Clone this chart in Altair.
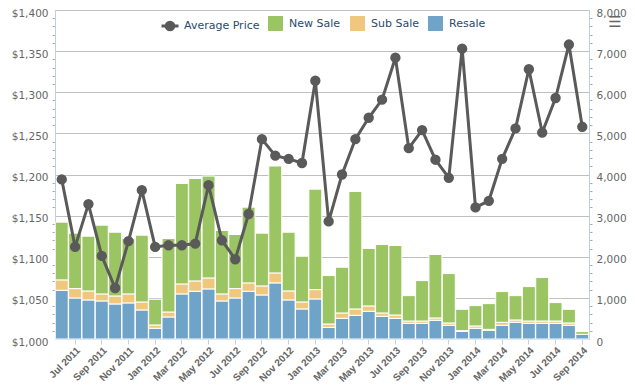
import altair as alt
import pandas as pd

months = ["Jun 2011", "Jul 2011", "Aug 2011", "Sep 2011", "Oct 2011", "Nov 2011", "Dec 2011",
          "Jan 2012", "Feb 2012", "Mar 2012", "Apr 2012", "May 2012", "Jun 2012", "Jul 2012",
          "Aug 2012", "Sep 2012", "Oct 2012", "Nov 2012", "Dec 2012", "Jan 2013", "Feb 2013",
          "Mar 2013", "Apr 2013", "May 2013", "Jun 2013", "Jul 2013", "Aug 2013", "Sep 2013",
          "Oct 2013", "Nov 2013", "Dec 2013", "Jan 2014", "Feb 2014", "Mar 2014", "Apr 2014",
          "May 2014", "Jun 2014", "Jul 2014", "Aug 2014", "Sep 2014"]

resale = [1185, 998, 950, 925, 852, 877, 706, 260, 536, 1096, 1161, 1218, 925, 998, 1161, 1071,
          1364, 950, 731, 974, 284, 503, 576, 674, 552, 503, 381, 381, 455, 333, 187, 260, 211,
          333, 406, 381, 381, 381, 333, 114]
sub_sale = [252, 228, 219, 171, 195, 219, 195, 81, 121, 243, 251, 267, 171, 228, 203, 220,
            243, 219, 170, 227, 81, 130, 155, 130, 81, 81, 57, 57, 57, 57, 16, 57, 24, 73, 57,
            57, 57, 57, 57, 0]
new_sale = [1404, 1347, 1331, 1672, 1550, 1347, 1623, 625, 1786, 2443, 2492, 2476, 1542, 1315,
            1842, 1282, 2600, 1428, 1112, 2443, 1177, 1112, 2857, 1396, 1664, 1689, 617, 982,
            1543, 1201, 519, 495, 625, 747, 592, 836, 1056, 447, 332, 65]
avg_price = [1194, 1112, 1164, 1101, 1062, 1119, 1181, 1112, 1114, 1114, 1116, 1187, 1120, 1097,
             1152, 1243, 1223, 1219, 1214, 1314, 1143, 1200, 1243, 1269, 1291, 1342, 1232, 1254,
             1218, 1196, 1353, 1160, 1168, 1219, 1256, 1328, 1251, 1293, 1358, 1258]

bar_series = ["New Sale", "Sub Sale", "Resale"]
bar_colors = ["#9BC563", "#F0C87D", "#6FA3C7"]
line_color = "#5A5A5A"

rows = []
for i, m in enumerate(months):
    rows.append({"month": m, "series": "Resale", "value": resale[i], "ord": 0})
    rows.append({"month": m, "series": "Sub Sale", "value": sub_sale[i], "ord": 1})
    rows.append({"month": m, "series": "New Sale", "value": new_sale[i], "ord": 2})
bars_df = pd.DataFrame(rows)
line_df = pd.DataFrame({"month": months, "price": avg_price, "series": "Average Price"})

axis_col = "#C0D0E0"
font = "DejaVu Sans"

x_enc = alt.X("month:N", sort=months,
              scale=alt.Scale(paddingInner=0.03, paddingOuter=0.02),
              axis=alt.Axis(title=None, values=months[1::2], labelAngle=-45,
                            labelFont="Liberation Sans", labelFontSize=10, labelFontWeight="bold",
                            labelColor="#666666", tickColor=axis_col, tickSize=5,
                            domainColor=axis_col, grid=False, labelPadding=1))

bars = alt.Chart(bars_df).mark_bar(stroke="white", strokeWidth=1).encode(
    x=x_enc,
    y=alt.Y("value:Q", stack="zero",
            scale=alt.Scale(domain=[0, 8000], nice=False),
            axis=alt.Axis(title=None, orient="right", values=list(range(0, 8001, 200)),
                          labelExpr="datum.value % 1000 === 0 ? format(datum.value, ',') : ''",
                          labelOverlap=False, labelFlush=False,
                          tickOpacity={"condition": {"test": "datum.value % 1000 === 0", "value": 0}, "value": 1},
                          tickSize=3, tickColor="#A0B0C0", labelPadding=4,
                          domainColor=axis_col, grid=False,
                          labelFont=font, labelFontSize=10.5, labelColor="#666666", labelOffset=3)),
    color=alt.Color("series:N", scale=alt.Scale(domain=bar_series, range=bar_colors),
                    legend=alt.Legend(title=None, orient="none", direction="horizontal",
                                      legendX=213, legendY=6, symbolType="square",
                                      symbolSize=225, symbolStrokeWidth=0,
                                      labelFont=font, labelFontSize=11, labelColor="#274B6D",
                                      columnPadding=9, labelOffset=6)),
    order=alt.Order("ord:Q", sort="ascending"),
)

line = alt.Chart(line_df).mark_line(color=line_color, strokeWidth=3,
                                   point=alt.OverlayMarkDef(color=line_color, size=70, filled=True, opacity=1)).encode(
    x=x_enc,
    y=alt.Y("price:Q",
            scale=alt.Scale(domain=[1000, 1400], nice=False),
            axis=alt.Axis(title=None, orient="left", values=list(range(1000, 1401, 10)),
                          labelExpr="datum.value % 50 === 0 ? format(datum.value, '$,') : ''",
                          labelOverlap=False, labelFlush=False,
                          tickOpacity={"condition": {"test": "datum.value % 50 === 0", "value": 0}, "value": 1},
                          gridOpacity={"condition": {"test": "datum.value % 50 === 0", "value": 1}, "value": 0},
                          gridColor="#C0C0C0", grid=True,
                          tickSize=3, tickColor="#A0B0C0", labelPadding=4,
                          domainColor=axis_col,
                          labelFont=font, labelFontSize=10.5, labelColor="#666666", labelOffset=3)),
    stroke=alt.Stroke("series:N", scale=alt.Scale(domain=["Average Price"], range=[line_color]),
                      legend=alt.Legend(title=None, orient="none", direction="horizontal",
                                        legendX=105, legendY=6,
                                        symbolType="M-1,0L1,0M0.45,0A0.45,0.45,0,1,1,-0.45,0A0.45,0.45,0,1,1,0.45,0Z",
                                        symbolSize=289, symbolStrokeWidth=3,
                                        symbolFillColor=line_color,
                                        labelFont=font, labelFontSize=11, labelColor="#274B6D",
                                        labelOffset=4)),
)

menu_icon = alt.Chart(pd.DataFrame({"icon": ["\u2630"]})).mark_text(
    fontSize=15, color="#666666", font=font, align="center", baseline="middle"
).encode(x=alt.value(560), y=alt.value(12), text="icon:N")

chart = alt.layer(bars, line, menu_icon).resolve_scale(
    y="independent", color="independent", stroke="independent"
).properties(
    width=534, height=329,
    autosize=alt.AutoSizeParams(type="none"),
    padding={"left": 47, "top": 2, "right": 38, "bottom": 48},
).configure_view(stroke=None).configure(background="white")

chart.save("out.html", embed_options={"renderer": "svg", "actions": False})
